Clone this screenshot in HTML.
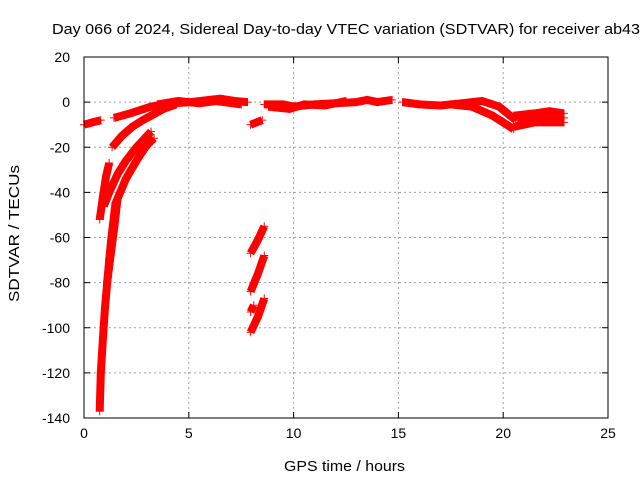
<!DOCTYPE html>
<html><head><meta charset="utf-8"><style>
html,body{margin:0;padding:0;background:#fff;}
svg{display:block;font-family:"Liberation Sans",sans-serif;}
</style></head><body>
<svg id="chart" width="640" height="480"></svg>
<script>
const xTicks=[0,5,10,15,20,25];
const yTicks=[20,0,-20,-40,-60,-80,-100,-120,-140];
const seriesEarly=[[0,-10],[0.4,-9],[0.8,-8]];
const seriesSteepLeft=[[0.75,-52],[0.9,-42],[1.05,-33],[1.2,-27]];
const seriesMain=[[0.75,-137],[0.8,-120],[0.9,-105],[1.0,-91],[1.2,-70],[1.3,-61],[1.5,-45],[2.0,-34],[2.5,-26],[3.0,-19],[3.34,-16]];
const seriesMain2=[[1.1,-80],[1.3,-66],[1.45,-55],[1.6,-43]];
const seriesBandA=[[0.95,-46],[1.2,-40],[1.6,-32],[2.0,-26],[2.5,-20],[3.2,-13]];
const seriesBandB=[[1.34,-20],[1.8,-15],[2.3,-11],[2.8,-8],[3.2,-6],[3.8,-3],[4.4,-1]];
const seriesTop=[[1.43,-7],[2.2,-5],[3.2,-2],[4.2,-0.5],[5.1,0],[6.0,1],[6.5,1.5],[7.2,0.5],[7.8,0]];
const seriesTopB=[[3.5,-1],[4.5,0.5],[5.5,-0.5],[6.3,0.5],[7.5,-1]];
const seriesShort=[[7.95,-10],[8.5,-8]];
const seriesDrop1=[[7.95,-67],[8.3,-61],[8.6,-55]];
const seriesDrop2=[[7.95,-84],[8.3,-76],[8.6,-68]];
const seriesDrop3=[[7.95,-102],[8.3,-95],[8.6,-87]];
const seriesDrop4=[[7.95,-93],[8.1,-90]];
const seriesMid=[[8.6,-1],[9.5,-1],[10.0,-2],[11.0,-1],[12.0,-0.5],[13.0,0],[13.5,1],[14.0,0],[14.7,1]];
const seriesMidB=[[8.8,-2],[9.8,-3],[10.5,-1],[11.5,-1.5],[12.5,0.5]];
const seriesLate1=[[15.2,0],[16.0,-1],[17.0,-1.5],[18.0,-0.5],[19.0,0.5],[19.8,-2],[20.6,-8]];
const seriesLate2=[[17.5,-1],[18.5,-2],[19.5,-6],[20.5,-12]];
const seriesTail1=[[20.5,-6],[21.5,-5],[22.2,-4],[22.9,-5]];
const seriesTail2=[[20.5,-11],[21.5,-9],[22.9,-9]];
const seriesTail3=[[20.7,-8],[21.8,-7],[22.9,-7]];
const allSeries=[seriesEarly,seriesSteepLeft,seriesMain,seriesMain2,seriesBandA,seriesBandB,seriesTop,seriesTopB,seriesShort,seriesDrop1,seriesDrop2,seriesDrop3,seriesDrop4,seriesMid,seriesMidB,seriesLate1,seriesLate2,seriesTail1,seriesTail2,seriesTail3];

const L=84,R=608,T=57,B=418;
const xs=h=>L+(h-0)/25*(R-L);
const ys=v=>T+(20-v)/160*(B-T);
const svg=document.getElementById('chart');
const NS='http://www.w3.org/2000/svg';
function mk(tag,attrs){const e=document.createElementNS(NS,tag);for(const k in attrs)e.setAttribute(k,attrs[k]);svg.appendChild(e);return e;}

xTicks.forEach(t=>{
  if(t>0&&t<25){const g=mk('line',{x1:xs(t),x2:xs(t),y1:T,y2:B,stroke:'#a0a0a0','stroke-dasharray':'2,3'});
  
  }
  const tb=mk('line',{x1:xs(t),x2:xs(t),y1:B,y2:B-6,stroke:'#000'});
  
  
  const tt=mk('line',{x1:xs(t),x2:xs(t),y1:T,y2:T+6,stroke:'#000'});
  
  
  const lb=mk('text',{x:xs(t),y:B+20,'text-anchor':'middle','font-size':'14',fill:'#000'});
  lb.textContent=t;
  
  
});
yTicks.forEach(t=>{
  if(t<20&&t>-140){const g=mk('line',{x1:L,x2:R,y1:ys(t),y2:ys(t),stroke:'#a0a0a0','stroke-dasharray':'2,3'});
  
  }
  const tl=mk('line',{x1:L,x2:L+6,y1:ys(t),y2:ys(t),stroke:'#000'});
  
  
  const tr=mk('line',{x1:R,x2:R-6,y1:ys(t),y2:ys(t),stroke:'#000'});
  
  
  const lb=mk('text',{x:L-14,y:ys(t)+5,'text-anchor':'end','font-size':'14',fill:'#000'});
  lb.textContent=t;
  
  
});

allSeries.forEach(s=>{
  const pts=s.map(p=>xs(p[0]).toFixed(1)+','+ys(p[1]).toFixed(1)).join(' ');
  const pl=mk('polyline',{points:pts,fill:'none',stroke:'#ff0000','stroke-width':'8','stroke-linecap':'butt','stroke-linejoin':'round'});
  
  
  s.forEach(p=>{
    const m=mk('path',{d:`M${xs(p[0])-4},${ys(p[1])}h8M${xs(p[0])},${ys(p[1])-4}v8`,stroke:'#ff0000','stroke-width':'1'});
    
    
  });
});

const frame=mk('rect',{x:L,y:T,width:R-L,height:B-T,fill:'none',stroke:'#000'});



const title=mk('text',{x:52,y:34,'text-anchor':'start','font-size':'15',fill:'#000',textLength:'588',lengthAdjust:'spacingAndGlyphs'});
title.textContent='Day 066 of 2024, Sidereal Day-to-day VTEC variation (SDTVAR) for receiver ab43';


const xt=mk('text',{x:284,y:471,'text-anchor':'start','font-size':'15',fill:'#000',textLength:'121',lengthAdjust:'spacingAndGlyphs'});
xt.textContent='GPS time / hours';


const yt=mk('text',{x:0,y:0,'text-anchor':'start','font-size':'15',fill:'#000',textLength:'137',lengthAdjust:'spacingAndGlyphs',transform:'translate(19,302) rotate(-90)'});
yt.textContent='SDTVAR / TECUs';


</script>
</body></html>
